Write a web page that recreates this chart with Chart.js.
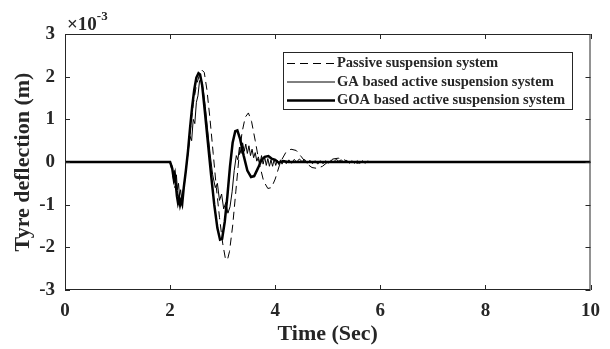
<!DOCTYPE html>
<html lang="en">
<head>
  <meta charset="UTF-8" />
  <title>Tyre deflection</title>
  <style>
    body { margin: 0; background: #ffffff; }
    canvas { display: block; }
  </style>
  <script src="https://cdn.jsdelivr.net/npm/chart.js"></script>
</head>
<body>
  <canvas id="chart" width="610" height="349"></canvas>

  <script>
    // tyre deflection values are in units of 1e-3 m (axis shows x10^-3)
    const passiveTime = [0, 2.0, 2.05, 2.09, 2.12, 2.16, 2.20, 2.24, 2.28, 2.33, 2.38, 2.44, 2.50, 2.56, 2.61, 2.65, 2.70, 2.76,
      2.82, 2.88, 2.94, 3.00, 3.05, 3.09, 3.13, 3.19, 3.25, 3.31, 3.37, 3.43, 3.49, 3.55, 3.62, 3.70, 3.78, 3.86, 3.93,
      4.00, 4.10, 4.20, 4.30, 4.40, 4.50, 4.60, 4.70, 4.80, 4.90, 5.00, 5.10, 5.20, 5.30, 5.40, 5.55, 5.70, 5.85, 6.0, 10];
    const passiveDefl = [0, 0, -0.3, -0.6, -0.5, -0.85, -0.9, -0.75, -0.4, 0.1, 0.7, 1.35, 1.8, 2.05, 2.15, 2.1, 1.7, 1.0,
      0.2, -0.6, -1.3, -1.9, -2.25, -2.3, -2.1, -1.5, -0.7, 0.1, 0.7, 1.05, 1.15, 0.95, 0.5, -0.05, -0.45, -0.62, -0.6,
      -0.4, 0.0, 0.22, 0.3, 0.27, 0.12, -0.04, -0.13, -0.15, -0.1, 0.0, 0.07, 0.09, 0.06, 0.0, -0.03, 0, 0.01, 0, 0];

    const gaTime = [0, 2.0, 2.04, 2.06, 2.08, 2.10, 2.12, 2.14, 2.16, 2.18, 2.20, 2.22, 2.24, 2.27, 2.30, 2.34, 2.38, 2.41,
      2.44, 2.47, 2.50, 2.53, 2.56, 2.59, 2.63, 2.67, 2.71, 2.76, 2.81, 2.86, 2.90, 2.94, 2.98, 3.02, 3.06, 3.10, 3.14,
      3.18, 3.22, 3.26, 3.29, 3.32, 3.35, 3.38, 3.41, 3.44, 3.47, 3.50, 3.53, 3.56, 3.59, 3.62, 3.65, 3.68, 3.71, 3.74,
      3.77, 3.80, 3.83, 3.86, 3.89, 3.92, 3.95, 3.98, 4.01, 4.04, 4.07, 4.10, 4.13, 4.16, 4.21, 4.26, 4.31, 4.36, 4.41,
      4.46, 4.51, 4.56, 4.61, 4.66, 4.71, 4.76, 4.81, 4.86, 4.91, 4.96, 5.01, 5.06, 5.11, 5.16, 5.21, 5.26, 5.31, 5.36,
      5.41, 5.46, 5.51, 5.56, 5.61, 5.66, 5.71, 5.76, 5.82, 10];
    const gaDefl = [0, 0, -0.1, -0.35, -0.2, -0.5, -0.3, -0.65, -0.5, -0.8, -0.65, -0.85, -0.7, -0.55, -0.2, 0.2, 0.6, 0.5,
      1.0, 0.9, 1.4, 1.55, 1.9, 1.95, 1.7, 1.3, 0.8, 0.2, -0.3, -0.6, -0.5, -0.9, -0.75, -1.1, -0.95, -1.2, -1.05,
      -0.7, -0.2, 0.15, 0.05, 0.35, 0.2, 0.45, 0.25, 0.42, 0.2, 0.38, 0.15, 0.3, 0.1, 0.22, 0.02, 0.12, -0.05, 0.15,
      -0.05, 0.12, -0.08, 0.08, -0.1, 0.05, -0.1, 0.06, -0.08, 0.04, -0.06, 0.05, -0.05, 0.04, -0.04, 0.05, -0.03, 0.06,
      0.0, 0.07, 0.01, 0.06, -0.03, 0.04, -0.04, 0.03, -0.05, 0.03, -0.04, 0.03, -0.03, 0.04, 0.0, 0.06, 0.02, 0.05,
      -0.02, 0.04, -0.03, 0.03, -0.03, 0.03, -0.03, 0.03, -0.03, 0.02, 0, 0];

    const goaTime = [0, 2.0, 2.04, 2.07, 2.09, 2.11, 2.13, 2.15, 2.17, 2.19, 2.21, 2.23, 2.26, 2.30, 2.34, 2.38, 2.42, 2.46,
      2.50, 2.54, 2.57, 2.61, 2.66, 2.72, 2.78, 2.84, 2.90, 2.95, 2.99, 3.04, 3.09, 3.14, 3.19, 3.24, 3.28, 3.33, 3.40,
      3.47, 3.54, 3.60, 3.67, 3.74, 3.80, 3.87, 3.93, 4.00, 4.07, 4.15, 4.25, 10];
    const goaDefl = [0, 0, -0.15, -0.4, -0.3, -0.55, -0.8, -0.95, -0.85, -1.0, -0.9, -0.98, -0.6, -0.2, 0.25, 0.8, 1.3, 1.7,
      1.98, 2.08, 2.05, 1.8, 1.2, 0.45, -0.3, -1.0, -1.55, -1.82, -1.8, -1.4, -0.8, -0.1, 0.45, 0.72, 0.74, 0.55, 0.15,
      -0.2, -0.35, -0.33, -0.15, 0.05, 0.12, 0.14, 0.08, 0.05, -0.02, 0.02, 0, 0];

    const xTicks = [0, 2, 4, 6, 8, 10];
    const yTicks = [-3, -2, -1, 0, 1, 2, 3];

    const pts = (t, v) => t.map((x, i) => ({ x, y: v[i] }));
    const serif = "'Liberation Serif', 'Times New Roman', serif";
    const ink = '#262626';

    Chart.defaults.font.family = serif;
    Chart.defaults.font.weight = 'bold';
    Chart.defaults.color = ink;

    // matlab style box, inward ticks, exponent label and legend
    const matlabBox = {
      id: 'matlabBox',
      afterDatasetsDraw(chart) {
        const { ctx, chartArea: a, scales: { x, y } } = chart;
        ctx.save();
        ctx.strokeStyle = ink;
        ctx.lineWidth = 1;
        ctx.strokeRect(a.left + 0.5, a.top + 0.5, a.right - a.left - 1, a.bottom - a.top - 1);
        ctx.beginPath();
        xTicks.forEach(v => {
          const px = Math.round(x.getPixelForValue(v)) + 0.5;
          ctx.moveTo(px, a.bottom); ctx.lineTo(px, a.bottom - 5);
          ctx.moveTo(px, a.top); ctx.lineTo(px, a.top + 5);
        });
        yTicks.forEach(v => {
          const py = Math.round(y.getPixelForValue(v)) + 0.5;
          ctx.moveTo(a.left, py); ctx.lineTo(a.left + 5, py);
          ctx.moveTo(a.right, py); ctx.lineTo(a.right - 5, py);
        });
        ctx.stroke();

        ctx.fillStyle = ink;
        ctx.font = 'bold 19px ' + serif;
        ctx.fillText('\u00d710', a.left + 2, a.top - 4);
        const w = ctx.measureText('\u00d710').width;
        ctx.font = 'bold 13px ' + serif;
        ctx.fillText('-3', a.left + 2 + w, a.top - 14);

        // legend
        const lx = 283, ly = 52, lw = 289, lh = 57;
        ctx.fillStyle = '#ffffff';
        ctx.fillRect(lx, ly, lw, lh);
        ctx.strokeStyle = ink;
        ctx.lineWidth = 1;
        ctx.strokeRect(lx + 0.5, ly + 0.5, lw, lh);
        const order = [2, 1, 0];
        order.forEach((di, row) => {
          const ds = chart.data.datasets[di];
          const cy = ly + 11.5 + row * 18.5;
          ctx.strokeStyle = ds.borderColor;
          ctx.lineWidth = ds.borderWidth;
          ctx.setLineDash(ds.borderDash || []);
          ctx.beginPath();
          ctx.moveTo(lx + 4, cy);
          ctx.lineTo(lx + 52, cy);
          ctx.stroke();
          ctx.setLineDash([]);
          ctx.fillStyle = ink;
          ctx.font = 'bold 14.5px ' + serif;
          ctx.textBaseline = 'middle';
          ctx.fillText(ds.label, lx + 54, cy);
        });
        ctx.restore();
      }
    };

    new Chart(document.getElementById('chart'), {
      type: 'line',
      data: {
        datasets: [
          {
            label: 'GOA based active suspension system',
            data: pts(goaTime, goaDefl),
            borderColor: '#000000',
            borderWidth: 2.5,
            order: 0
          },
          {
            label: 'GA based active suspension system',
            data: pts(gaTime, gaDefl),
            borderColor: '#000000',
            borderWidth: 1,
            order: 1
          },
          {
            label: 'Passive suspension system',
            data: pts(passiveTime, passiveDefl),
            borderColor: '#000000',
            borderWidth: 1,
            borderDash: [8, 5],
            order: 2
          }
        ]
      },
      options: {
        responsive: false,
        animation: false,
        events: [],
        elements: { point: { radius: 0 }, line: { tension: 0 } },
        layout: { padding: { top: 34, right: 10, left: 0, bottom: 0 } },
        plugins: { legend: { display: false }, tooltip: { enabled: false } },
        scales: {
          x: {
            type: 'linear',
            min: 0,
            max: 10,
            afterFit: s => { s.height = 59; },
            afterBuildTicks: s => { s.ticks = xTicks.map(v => ({ value: v })); },
            grid: { display: false, drawTicks: false },
            border: { display: false },
            ticks: { font: { size: 19, weight: 'bold' }, padding: 10, maxRotation: 0 },
            title: { display: true, text: 'Time (Sec)', font: { size: 22, weight: 'bold' }, padding: { top: 0, bottom: 1 } }
          },
          y: {
            min: -3,
            max: 3,
            afterFit: s => { s.width = 65; },
            afterBuildTicks: s => { s.ticks = yTicks.map(v => ({ value: v })); },
            grid: { display: false, drawTicks: false },
            border: { display: false },
            ticks: { font: { size: 19, weight: 'bold' }, padding: 10, callback: v => String(v) },
            title: { display: true, text: 'Tyre deflection (m)', font: { size: 22, weight: 'bold' }, padding: { top: 10, bottom: 0 } }
          }
        }
      },
      plugins: [matlabBox]
    });
  </script>
</body>
</html>
